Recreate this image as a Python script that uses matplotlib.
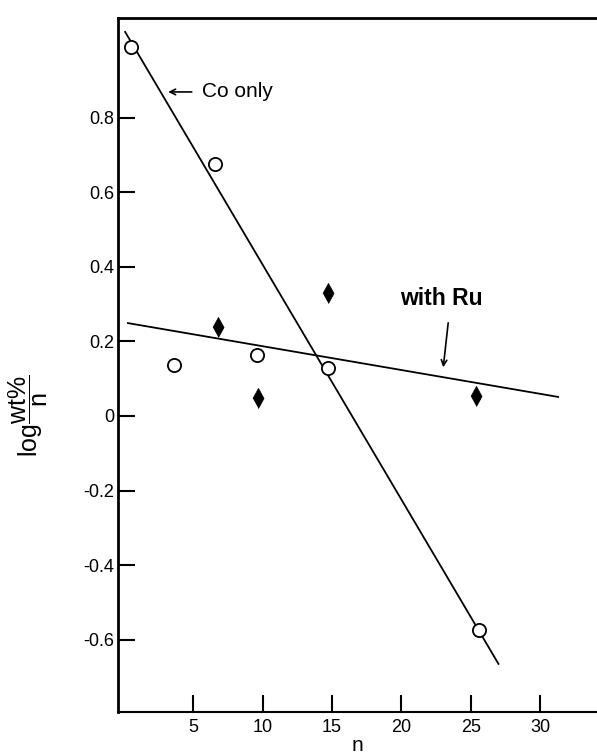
import matplotlib
matplotlib.use("Agg")
import matplotlib.pyplot as plt

plt.rcParams['font.family'] = ['Liberation Sans', 'DejaVu Sans']
plt.rcParams['mathtext.fontset'] = 'custom'
plt.rcParams['mathtext.rm'] = 'Liberation Sans'
plt.rcParams['mathtext.it'] = 'Liberation Sans'

# Co only (open circles)
co_n = [0.5, 3.6, 6.6, 9.6, 14.7, 25.6]
co_y = [0.99, 0.137, 0.676, 0.163, 0.128, -0.574]

# with Ru (filled diamonds)
ru_n = [6.8, 9.7, 14.7, 25.4]
ru_y = [0.239, 0.048, 0.33, 0.054]

# fitted lines (end points)
co_fit_n = [0.1, 27.0]
co_fit_y = [1.03, -0.665]
ru_fit_n = [0.3, 31.3]
ru_fit_y = [0.249, 0.051]

xticks = [5, 10, 15, 20, 25, 30]
yticks = [-0.6, -0.4, -0.2, 0, 0.2, 0.4, 0.6, 0.8]
ytick_labels = ['-0.6', '-0.4', '-0.2', '0', '0.2', '0.4', '0.6', '0.8']

# narrow diamond marker like the original
diamond = [(-0.55, 0), (0, 1), (0.55, 0), (0, -1)]

fig = plt.figure(figsize=(5.97, 7.55), dpi=100)
ax = fig.add_axes([0.198, 0.057, 0.802, 0.919])

ax.plot(co_fit_n, co_fit_y, color='black', lw=1.3)
ax.plot(ru_fit_n, ru_fit_y, color='black', lw=1.3)
ax.plot(co_n, co_y, 'o', mfc='white', mec='black', mew=1.3, ms=9.5)
ax.plot(ru_n, ru_y, linestyle='none', marker=diamond, mfc='black', mec='black',
        mew=0.5, ms=14.5)

ax.set_xlim(-0.4, 34.1)
ax.set_ylim(-0.794, 1.067)

ax.set_xticks(xticks)
ax.set_yticks(yticks)
ax.set_yticklabels(ytick_labels)
ax.tick_params(axis='both', direction='in', length=12, width=1.5, labelsize=13)
ax.tick_params(axis='y', pad=3)
ax.tick_params(axis='x', pad=5)

ax.spines['right'].set_visible(False)
ax.spines['left'].set_linewidth(2)
ax.spines['top'].set_linewidth(2)
ax.spines['bottom'].set_linewidth(1.5)

ax.set_xlabel('n', fontsize=15, labelpad=0)
ax.set_ylabel(r'log$\dfrac{\mathrm{wt\%}}{\mathrm{n}}$', fontsize=18)
ax.yaxis.set_label_coords(-0.142, 0.4265)

ax.annotate('', xy=(3.0, 0.869), xytext=(5.1, 0.869),
            arrowprops=dict(arrowstyle='->', color='black', lw=1.2))
ax.text(5.65, 0.869, 'Co only', fontsize=15, va='center', ha='left')
ax.text(22.9, 0.316, 'with Ru', fontsize=16.5, fontweight='bold', ha='center', va='center')
ax.annotate('', xy=(23.0, 0.123), xytext=(23.4, 0.257),
            arrowprops=dict(arrowstyle='->', color='black', lw=1.2))

fig.savefig('out.png', dpi=100)
